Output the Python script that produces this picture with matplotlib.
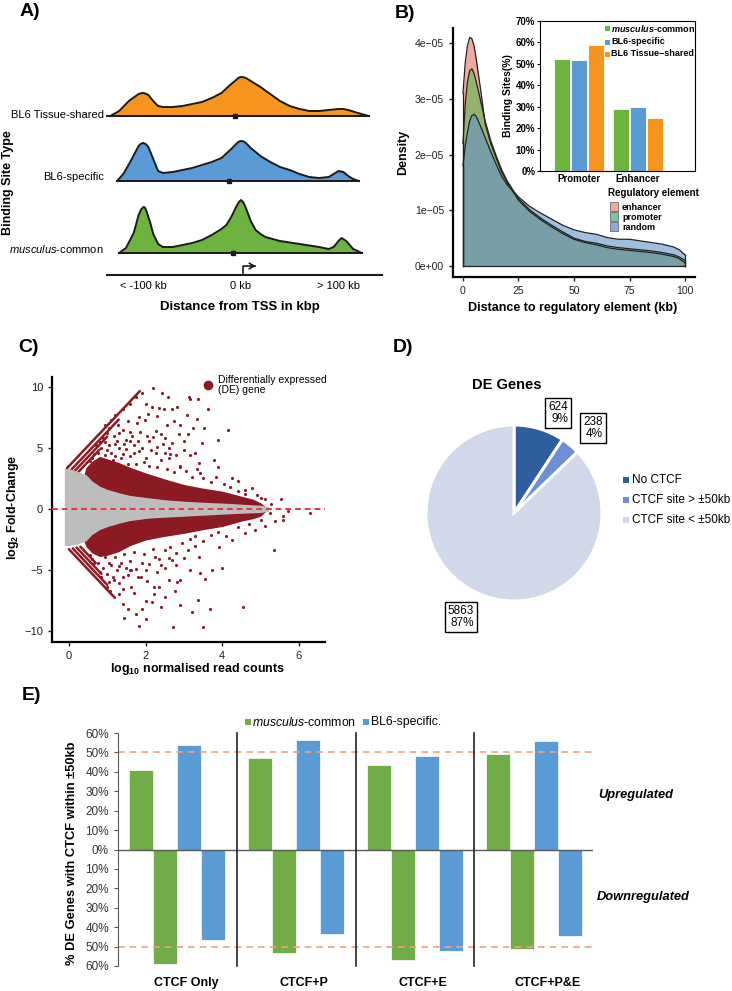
import numpy as np
import matplotlib
matplotlib.use('Agg')
import matplotlib.pyplot as plt
from matplotlib.patches import Rectangle

plt.rcParams['font.family'] = ['Liberation Sans', 'DejaVu Sans']
plt.rcParams['mathtext.fontset'] = 'custom'
plt.rcParams['mathtext.rm'] = 'Liberation Sans'
plt.rcParams['mathtext.it'] = 'Liberation Sans:italic'
plt.rcParams['mathtext.bf'] = 'Liberation Sans:bold'
plt.rcParams['mathtext.bfit'] = 'Liberation Sans:italic:bold'

# ---------------- DATA ----------------
# Panel A: ridge densities (relative heights) vs distance from TSS (kb)
tissue_kb = [-134, -125, -115, -105, -102.5, -100, -97.5, -95, -90, -85, -80, -70, -60, -50, -40, -30, -20, -10,
             -5, -2.5, 0, 2.5, 5, 10, 20, 30, 40, 50, 60, 70, 80, 90, 100, 105, 110, 120, 131]
tissue_h = [0, 5, 15, 22, 22.8, 23, 22.3, 21, 15, 10, 9, 9, 10, 12, 14, 18, 23, 32,
            36, 38.3, 39, 38.8, 38, 35, 29, 22, 15, 10, 7, 5, 5, 6, 7, 7, 6, 3, 0]
specific_kb = [-127, -120, -112, -105, -102.5, -100, -97.5, -95, -90, -85, -80, -70, -60, -50, -40, -30, -20, -10,
               -5, -2.5, 0, 2.5, 5, 10, 20, 30, 40, 50, 60, 70, 80, 90, 95, 100, 105, 110, 115, 121]
specific_h = [0, 8, 22, 35, 37.3, 38, 36.8, 34, 22, 10, 8, 9, 11, 13, 16, 19, 23, 32,
              37, 39.3, 40, 39.6, 38, 33, 25, 19, 14, 11, 7, 4, 3, 4, 7, 10, 9, 5, 2, 0]
common_kb = [-125, -118, -110, -105, -102.5, -100, -98.5, -97, -93, -90, -85, -80, -70, -60, -50, -40, -30, -20,
             -15, -10, -5, -2.5, 0, 2.5, 5, 10, 15, 20, 25, 40, 60, 80, 90, 95, 100, 103, 108, 115, 124]
common_h = [0, 5, 20, 38, 43.5, 46, 45.5, 42, 30, 19, 9, 6, 6, 8, 10, 13, 18, 24,
            28, 36, 46, 50.5, 53, 50.5, 45, 32, 23, 19, 16, 12, 9, 6, 4, 6, 12, 15, 12, 4, 0]
ridge_medians = [-6, -12, -8]
ridge_labels = ['BL6 Tissue-shared', 'BL6-specific', r'$\mathit{musculus}$-common']
tss_ticks = [-100, 0, 100]
tss_ticklabels = ['< -100 kb', '0 kb', '> 100 kb']

# Panel B: densities (x 1e-05) vs distance to regulatory element (kb)
dist_kb = [0, 1, 2, 3, 4, 5, 6, 8, 10, 12.5, 15, 17.5, 20, 25, 30, 35, 40, 45, 50, 55, 60, 65, 70, 75, 80, 85, 90,
           95, 97.5, 100]
dens_enhancer = [3.1, 3.65, 3.95, 4.1, 4.08, 3.95, 3.7, 3.15, 2.55, 2.2, 1.93, 1.68, 1.49, 1.18, 0.98, 0.83, 0.7,
                 0.58, 0.48, 0.42, 0.38, 0.33, 0.3, 0.28, 0.26, 0.24, 0.21, 0.17, 0.13, 0.06]
dens_promoter = [2.2, 2.9, 3.3, 3.5, 3.54, 3.45, 3.3, 2.95, 2.6, 2.25, 1.97, 1.72, 1.52, 1.21, 1.01, 0.86, 0.73,
                 0.61, 0.5, 0.44, 0.41, 0.36, 0.33, 0.31, 0.29, 0.27, 0.24, 0.2, 0.16, 0.1]
dens_random = [1.8, 2.15, 2.4, 2.6, 2.7, 2.72, 2.68, 2.5, 2.3, 2.05, 1.82, 1.6, 1.45, 1.24, 1.07, 0.95, 0.84,
               0.73, 0.65, 0.6, 0.57, 0.51, 0.48, 0.48, 0.45, 0.42, 0.39, 0.34, 0.29, 0.2]
inset_categories = ['Promoter', 'Enhancer']
inset_common = [52.5, 29.0]
inset_specific = [52.0, 30.0]
inset_shared = [59.0, 24.8]

# Panel C: MA plot
env_x = [-0.12, 0.0, 0.2, 0.45, 0.6, 0.8, 1.0, 1.32, 1.6, 2.1, 2.5, 3.0, 3.4, 3.8, 4.2, 4.7, 5.0, 5.2]
gray_up = [3.3, 3.3, 3.1, 2.8, 2.3, 1.86, 1.6, 1.31, 1.1, 0.9, 0.75, 0.63, 0.56, 0.5, 0.45, 0.35, 0.3, 0.2]
gray_lo = [-3.0, -3.0, -2.9, -2.6, -2.1, -1.7, -1.45, -1.16, -0.95, -0.75, -0.68, -0.6, -0.53, -0.47, -0.4, -0.33,
           -0.3, -0.2]
red_x = [0.4, 0.45, 0.6, 0.8, 1.0, 1.3, 1.6, 2.0, 2.5, 3.0, 3.5, 4.0, 4.5, 4.8, 5.0, 5.2]
red_up = [2.9, 3.4, 3.9, 4.3, 4.1, 3.8, 3.4, 2.95, 2.45, 2.0, 1.7, 1.45, 1.04, 0.8, 0.5, 0.0]
red_lo = [-2.7, -3.1, -3.6, -3.9, -3.8, -3.5, -3.0, -2.55, -2.25, -2.0, -1.7, -1.44, -1.0, -0.8, -0.6, 0.0]
# zero-count streaks: (x_start, x_end, intercept, slope)
streak_x0 = [-0.05, 0.05, 0.15, 0.25, 0.0, 0.1, 0.2, 0.3]
streak_x1 = [1.85, 1.3, 1.0, 0.8, 1.2, 1.0, 0.85, 0.7]
streak_b = [3.5, 3.0, 2.6, 2.2, -3.3, -2.9, -2.5, -2.1]
streak_m = [3.32, 3.32, 3.32, 3.32, -3.32, -3.32, -3.32, -3.32]
de_x = [2.2, 1.92, 1.75, 2.42, 2.59, 3.13, 3.37, 3.15, 2.18, 2.35, 2.48, 2.68, 2.83, 3.63, 2.06, 1.84, 3.07, 3.33,
        1.53, 1.78, 1.99, 2.57, 2.91, 3.53, 4.15, 1.28, 1.41, 1.59, 2.27, 2.4, 2.87, 3.11, 0.93, 1.17, 1.49, 2.09,
        2.7, 3.47, 3.9, 3.17, 3.78, 3.89, 4.25, 4.42, 3.43, 2.91, 2.61, 2.27, 1.84, 3.39, 4.59, 4.77, 5.11, 5.28,
        5.52, 6.3, 5.59, 5.37, 5.24, 5.72, 5.35,
        4.55, 3.21, 3.37, 3.68, 2.72, 3.49, 2.91, 2.76, 2.4, 2.0, 1.84, 1.75, 2.0, 1.42, 1.53, 1.45, 2.18, 1.41,
        1.62, 2.21, 2.35, 2.23, 2.61, 2.83, 2.91, 3.17, 3.43, 3.56, 3.72, 4.0, 1.88, 1.41, 1.19, 1.62, 2.0, 1.06,
        2.7, 3.0, 3.39, 3.91, 4.25, 4.59, 4.85, 5.11, 5.59,
        0.75, 0.85, 0.95, 1.05, 1.1, 1.2, 1.3, 1.4, 1.5, 1.6, 1.7, 1.9, 2.0, 2.15, 2.3, 2.5, 2.6, 2.8, 3.0, 3.3,
        1.0, 1.25, 1.65, 1.8, 2.5, 3.0, 0.6, 0.7,
        0.75, 0.9, 1.0, 1.1, 1.25, 1.35, 1.5, 1.6, 1.75, 1.9, 2.1, 2.25, 2.4, 2.6, 2.8, 3.1, 3.3, 0.6, 0.85, 1.05,
        1.3, 1.55, 2.3, 2.5,
        0.55, 0.65, 0.7, 0.8, 0.9, 0.95, 1.0, 1.05, 1.15, 1.2, 1.3, 1.35, 1.45, 1.55, 1.6, 1.7, 1.75, 1.85, 1.95,
        2.05, 2.1, 2.2, 2.3, 2.4, 2.45, 2.55, 2.65, 2.75, 2.9, 3.05, 3.2, 3.35, 3.5, 3.7, 3.85, 4.05, 4.2, 4.4,
        4.6, 4.9, 5.0, 1.1, 1.2, 1.4, 1.6, 0.95, 2.0, 2.3, 2.75, 3.25,
        0.55, 0.65, 0.7, 0.8, 0.95, 1.05, 1.15, 1.2, 1.3, 1.45, 1.6, 1.7, 1.8, 1.95, 2.05, 2.2, 2.35, 2.5, 2.65,
        2.8, 2.95, 3.15, 3.3, 3.5, 3.7, 3.9, 4.1, 4.4, 4.7, 5.0, 1.0, 1.3, 1.7, 1.9, 2.5]
de_y = [9.9, 9.45, 9.2, 9.45, 9.2, 9.2, 8.96, 8.96, 8.36, 8.28, 8.2, 8.2, 8.36, 8.22, 7.73, 7.54, 7.65, 7.32,
        7.19, 7.0, 7.27, 6.91, 6.91, 6.64, 6.45, 6.83, 6.5, 6.28, 6.37, 6.15, 6.1, 6.17, 5.46, 5.96, 5.68, 5.55,
        5.41, 5.41, 5.68, 4.45, 4.04, 3.44, 2.54, 2.27, 2.95, 3.5, 4.18, 4.59, 4.73, 3.77, 1.58, 1.72, 0.77, 0.36,
        0.77, -0.33, -0.87, -1.01, -0.33, -0.19, -3.39,
        -8.07, -8.48, -7.43, -8.2, -9.67, -9.67, -7.85, -6.74, -8.07, -7.51, -9.59, -8.62, -9.03, -7.79, -8.2,
        -8.9, -7.65, -6.55, -6.41, -6.41, -6.41, -6.96, -5.86, -6.0, -5.86, -5.03, -5.25, -5.72, -5.03, -4.81,
        -5.58, -5.58, -5.86, -5.03, -5.03, -6.69, -4.2, -4.06, -3.92, -3.09, -2.54, -1.99, -1.71, -1.44, -0.55,
        4.6, 5.0, 4.4, 5.2, 4.6, 4.3, 5.0, 4.5, 4.9, 4.3, 5.2, 5.0, 4.2, 4.8, 5.1, 4.6, 5.0, 4.4, 4.8, 4.6,
        6.2, 5.6, 6.0, 5.6, 5.8, 5.6, 4.2, 5.2,
        -4.4, -4.8, -5.3, -4.6, -5.0, -4.4, -4.8, -4.3, -4.9, -4.4, -4.5, -3.9, -4.6, -4.0, -3.6, -3.4, -3.0,
        -4.1, -5.6, -6.0, -6.1, -5.4, -5.2, -3.4,
        3.9, 4.5, 3.8, 5.5, 5.8, 3.9, 4.8, 6.6, 4.0, 5.3, 6.2, 4.2, 5.3, 3.7, 5.6, 4.6, 3.7, 6.3, 3.8,
        6.0, 3.5, 5.9, 3.4, 4.0, 5.3, 3.3, 4.5, 3.0, 3.4, 3.1, 2.6, 3.3, 2.5, 2.2, 2.6, 2.0, 1.8, 1.5,
        1.2, 1.1, 0.9, 7.3, 7.7, 8.2, 8.6, 6.9, 8.6, 7.6, 7.2, 6.6,
        -3.8, -4.4, -3.6, -5.2, -3.9, -4.4, -5.6, -3.9, -4.7, -3.7, -5.0, -3.5, -5.6, -3.7, -5.9, -3.3, -4.1,
        -4.8, -3.1, -4.6, -2.8, -2.5, -2.2, -2.6, -2.1, -1.9, -2.2, -1.5, -1.2, -0.9, -6.4, -7.0, -6.9, -8.2, -7.2]

# Panel D
pie_labels = ['No CTCF', 'CTCF site > \u00b150kb', 'CTCF site < \u00b150kb']
pie_counts = [624, 238, 5863]
pie_pct = ['9%', '4%', '87%']

# Panel E
e_groups = ['CTCF Only', 'CTCF+P', 'CTCF+E', 'CTCF+P&E']
mus_up = [41.1, 47.0, 43.4, 49.4]
mus_down = [59.0, 53.5, 56.9, 51.1]
bl6_up = [53.7, 56.6, 48.2, 55.9]
bl6_down = [46.6, 43.7, 52.1, 44.4]

# ---------------- FIGURE ----------------
W, H = 732, 991
fig = plt.figure(figsize=(W / 100, H / 100), dpi=100)


def axpx(x0, y0, x1, y1, **kw):
    return fig.add_axes([x0 / W, 1 - y1 / H, (x1 - x0) / W, (y1 - y0) / H], **kw)


def ftext(x, y, s, **kw):
    return fig.text(x / W, 1 - y / H, s, **kw)


def fbox(x, y, w, h, **kw):
    fig.add_artist(Rectangle((x / W, 1 - (y + h) / H), w / W, h / H, transform=fig.transFigure, **kw))


ORANGE = '#F7941D'
BLUE = '#5B9BD5'
GREEN = '#6DB33F'
DKRED = '#8B1A22'

# ---------- Panel A ----------
ftext(20, 11, 'A)', fontsize=14, fontweight='bold', va='center')
axA = axpx(100, 60, 382, 300)
axA.set_xlim(-144.6, 144.6)
axA.set_ylim(-47, 193)
axA.axis('off')
ridges = [(tissue_kb, tissue_h, ORANGE, 137), (specific_kb, specific_h, BLUE, 72), (common_kb, common_h, GREEN, 0)]
label_y = [138, 76, 4]
for i, (kb, h, col, base) in enumerate(ridges):
    kb = np.array(kb, float)
    yy = np.array(h, float) + base
    axA.fill_between(kb, base, yy, color=col, lw=0, zorder=2)
    axA.plot(kb, yy, color='#1a1a1a', lw=1.4, zorder=3, solid_joinstyle='round')
    x0 = kb.min() - (3 if i == 0 else 0)
    axA.plot([x0, kb.max()], [base, base], color='#1a1a1a', lw=1.4, zorder=3)
    axA.plot([ridge_medians[i]], [base], marker='s', color='#1a1a1a', ms=3.5, zorder=4)
    axA.text(-140.5, label_y[i], ridge_labels[i], ha='right', va='center', fontsize=8, clip_on=False)
axA.plot([-137, 144.6], [-22, -22], color='#1a1a1a', lw=1.5, clip_on=False)
axA.plot([2, 2, 13], [-22, -13, -13], color='#1a1a1a', lw=1.2)
axA.annotate('', xy=(18, -13), xytext=(11, -13),
             arrowprops=dict(arrowstyle='->,head_length=0.35,head_width=0.2', lw=1.2, color='#1a1a1a'))
for t, lab in zip(tss_ticks, tss_ticklabels):
    axA.text(t, -33, lab, ha='center', va='center', fontsize=8)
ftext(8, 183, 'Binding Site Type', rotation=90, fontsize=9, fontweight='bold', va='center', ha='center')
ftext(240, 307, 'Distance from TSS in kbp', fontsize=9.5, fontweight='bold', va='center', ha='center')

# ---------- Panel B ----------
ftext(395, 13, 'B)', fontsize=14, fontweight='bold', va='center')
axB = axpx(453, 28, 695, 277)
axB.set_xlim(-4.5, 104.5)
axB.set_ylim(-0.197, 4.27)
dx = np.array(dist_kb)
for vals, col in [(dens_enhancer, '#E67161'), (dens_promoter, '#5ABB4D'), (dens_random, '#6493CA')]:
    axB.fill_between(dx, 0, vals, color=col, alpha=0.6, lw=0)
    axB.plot(dx, vals, color='#222222', lw=0.9)
    axB.plot([0, 0], [0, vals[0]], color='#222222', lw=0.9)
    axB.plot([100, 100], [0, vals[-1]], color='#222222', lw=0.9)
axB.plot([0, 100], [0, 0], color='#222222', lw=0.9)
for s in ['top', 'right']:
    axB.spines[s].set_visible(False)
for s in ['left', 'bottom']:
    axB.spines[s].set_linewidth(1.6)
axB.set_xticks([0, 25, 50, 75, 100])
axB.set_yticks([0, 1, 2, 3, 4])
axB.set_yticklabels(['0e+00', '1e\u221205', '2e\u221205', '3e\u221205', '4e\u221205'])
axB.tick_params(labelsize=7.5, length=3, width=1, colors='#222222')
axB.set_ylabel('Density', fontsize=9, fontweight='bold', labelpad=4)
ftext(573, 308, 'Distance to regulatory element (kb)', fontsize=9, fontweight='bold', va='center', ha='center')
# legend of main
ftext(608, 193, 'Regulatory element', fontsize=7, fontweight='bold', va='center')
leg_cols = ['#F0AAA0', '#7DC6A2', '#8FA9E0']
for i, (lab, c) in enumerate(zip(['enhancer', 'promoter', 'random'], leg_cols)):
    fbox(610, 202 + i * 10, 8, 9, facecolor=c, edgecolor='#555555', lw=0.5)
    ftext(622, 207 + i * 10, lab, fontsize=6.5, fontweight='bold', va='center')

# inset
axI = axpx(540, 21, 695, 171)
axI.set_facecolor('white')
axI.set_ylim(0, 70)
axI.set_xlim(-0.656, 1.97)
xi = np.arange(len(inset_categories))
bw = 0.27
for off, vals, col in [(-0.29, inset_common, GREEN), (0, inset_specific, BLUE), (0.29, inset_shared, ORANGE)]:
    axI.bar(xi + off, vals, width=bw, color=col, edgecolor='white', lw=0.6)
axI.set_xticks(xi)
axI.set_xticklabels(inset_categories, fontsize=7, fontweight='bold')
axI.set_yticks(np.arange(0, 71, 10))
axI.set_yticklabels([f'{v}%' for v in range(0, 71, 10)], fontsize=7, fontweight='bold')
axI.tick_params(axis='x', length=0, pad=2)
axI.tick_params(axis='y', length=2, width=0.8, pad=1.5)
for s in axI.spines.values():
    s.set_linewidth(0.8)
axI.set_ylabel('Binding Sites(%)', fontsize=7.5, fontweight='bold', labelpad=2)
inset_leg = [r'$\mathbfit{musculus}$-common', 'BL6-specific', 'BL6 Tissue\u2212shared']
for i, (lab, c) in enumerate(zip(inset_leg, [GREEN, BLUE, ORANGE])):
    yy = [28, 42, 54][i]
    fbox(605, yy - 2.5, 5, 5, facecolor=c, edgecolor='none')
    ftext(611, yy, lab, fontsize=6.5, fontweight='bold', va='center')

# ---------- Panel C ----------
ftext(18, 347, 'C)', fontsize=14, fontweight='bold', va='center')
axC = axpx(52, 377, 325, 642)
axC.set_xlim(-0.44, 6.68)
axC.set_ylim(-10.9, 10.8)
axC.fill_between(red_x, red_lo, red_up, color=DKRED, lw=0, zorder=1)
axC.fill_between(env_x, gray_lo, gray_up, color='#BDBDBD', lw=0, zorder=2)
for x0, x1, b, m in zip(streak_x0, streak_x1, streak_b, streak_m):
    xs = np.array([x0, x1])
    axC.plot(xs, b + m * xs, color=DKRED, lw=1.8, solid_capstyle='round', zorder=1.5)
axC.scatter(de_x, de_y, s=5, color=DKRED, lw=0, zorder=3)
axC.axhline(0, color='#E03A3E', lw=1.4, ls=(0, (3, 2)), zorder=4)
for s in ['top', 'right']:
    axC.spines[s].set_visible(False)
for s in ['left', 'bottom']:
    axC.spines[s].set_linewidth(1.6)
axC.set_xticks([0, 2, 4, 6])
axC.set_yticks([-10, -5, 0, 5, 10])
axC.set_yticklabels(['\u221210', '\u22125', '0', '5', '10'])
axC.tick_params(labelsize=8, length=3, width=1, colors='#222222')
axC.plot([3.63], [10.16], 'o', color=DKRED, ms=6, clip_on=False)
ftext(218, 385, 'Differentially expressed\n(DE) gene', fontsize=7.5, va='center', linespacing=1.1)
ftext(13, 507, r'log$_{\mathbf{2}}$ Fold-Change', rotation=90, fontsize=9, fontweight='bold', va='center',
      ha='center')
ftext(197, 669, r'log$_{\mathbf{10}}$ normalised read counts', fontsize=9, fontweight='bold', va='center',
      ha='center')

# ---------- Panel D ----------
ftext(393, 347, 'D)', fontsize=14, fontweight='bold', va='center')
ftext(507, 385, 'DE Genes', fontsize=10.5, fontweight='bold', va='center', ha='center')
axD = axpx(426, 425, 602, 601)
pie_cols = ['#2F5E9E', '#6F8FD3', '#D0D8E9']
axD.pie(pie_counts, colors=pie_cols, startangle=90, counterclock=False,
        wedgeprops=dict(edgecolor='white', linewidth=2.2))
axD.set_xlim(-1, 1)
axD.set_ylim(-1, 1)
box_pos = [(558, 413), (593, 428), (461, 617)]
for (bx, by), n, p in zip(box_pos, pie_counts, pie_pct):
    ftext(bx, by, f'{n}\n{p}', fontsize=8.5, ha='center', va='center', linespacing=1.05,
          multialignment='right',
          bbox=dict(boxstyle='square,pad=0.25', facecolor='white', edgecolor='black', lw=1))
for i, (lab, c) in enumerate(zip(pie_labels, pie_cols)):
    fbox(623, 480 + i * 20 - 3, 6, 6, facecolor=c, edgecolor='none')
    ftext(632, 480 + i * 20, lab, fontsize=8.5, va='center')

# ---------- Panel E ----------
ftext(22, 696, 'E)', fontsize=14, fontweight='bold', va='center')
axE = axpx(118, 733, 593, 966)
axE.set_xlim(0, 4)
axE.set_ylim(-60, 60)
gx = np.arange(len(e_groups)) + 0.5
ebw = 0.202
axE.bar(gx - 0.303, mus_up, width=ebw, color='#70AD47', edgecolor='white', lw=0.5)
axE.bar(gx - 0.101, [-v for v in mus_down], width=ebw, color='#70AD47', edgecolor='white', lw=0.5)
axE.bar(gx + 0.101, bl6_up, width=ebw, color='#5B9BD5', edgecolor='white', lw=0.5)
axE.bar(gx + 0.303, [-v for v in bl6_down], width=ebw, color='#5B9BD5', edgecolor='white', lw=0.5)
axE.axhline(0, color='#595959', lw=1)
for yv in [50, -50]:
    axE.axhline(yv, color='#F4A07E', lw=1.2, ls=(0, (4, 3)))
for xv in [1, 2, 3]:
    axE.plot([xv, xv], [-60, 60], color='#222222', lw=1.2, clip_on=False)
for s in ['top', 'right', 'bottom']:
    axE.spines[s].set_visible(False)
axE.spines['left'].set_color('#595959')
axE.set_xticks([])
axE.set_yticks(np.arange(-60, 61, 10))
axE.set_yticklabels([f'{abs(v)}%' for v in range(-60, 61, 10)])
axE.tick_params(axis='y', labelsize=8.5, length=3, width=0.8, colors='#595959', labelcolor='#333333')
cat_px = [186, 304, 423, 548]
for cx, lab in zip(cat_px, e_groups):
    ftext(cx, 983, lab, fontsize=9, fontweight='bold', ha='center', va='center')
ftext(72, 853, '% DE Genes with CTCF within \u00b150kb', rotation=90, fontsize=9.3, fontweight='bold',
      va='center', ha='center')
ftext(598, 795, 'Upregulated', fontsize=9.3, fontweight='bold', style='italic', va='center')
ftext(597, 897, 'Downregulated', fontsize=9.3, fontweight='bold', style='italic', va='center')
fbox(245, 719, 6, 6, facecolor='#70AD47', edgecolor='none')
ftext(252, 722, r'$\mathit{musculus}$-common', fontsize=8.8, va='center')
fbox(363, 719, 6, 6, facecolor='#5B9BD5', edgecolor='none')
ftext(371, 722, 'BL6-specific.', fontsize=8.8, va='center')

fig.savefig('out.png', dpi=100)
